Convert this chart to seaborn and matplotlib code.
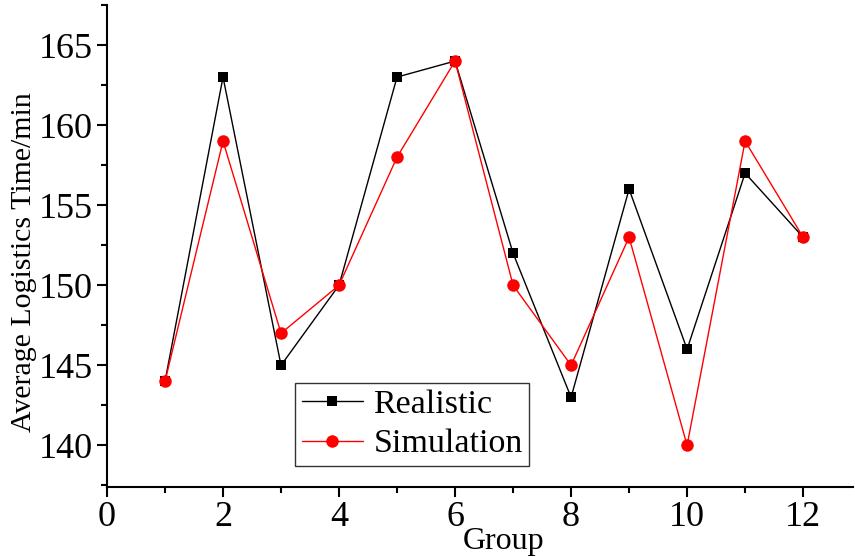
import matplotlib
matplotlib.use("Agg")
import matplotlib.pyplot as plt
import seaborn as sns
import pandas as pd
from matplotlib.ticker import MultipleLocator

groups = [1, 2, 3, 4, 5, 6, 7, 8, 9, 10, 11, 12]
realistic = [144, 163, 145, 150, 163, 164, 152, 143, 156, 146, 157, 153]
simulation = [144, 159, 147, 150, 158, 164, 150, 145, 153, 140, 159, 153]

sns.set_style("ticks")
plt.rcParams['font.family'] = ['Liberation Serif', 'DejaVu Serif']
plt.rcParams['text.color'] = 'black'
plt.rcParams['axes.labelcolor'] = 'black'

fig = plt.figure(figsize=(8.55, 5.57), dpi=100)
ax = fig.add_axes([107 / 855, 1 - 487 / 557, 746 / 855, 482 / 557])

df = pd.DataFrame({"Group": groups, "Realistic": realistic, "Simulation": simulation})

sns.lineplot(data=df, x="Group", y="Realistic", ax=ax, color="black", marker="s",
             markersize=7.5, linewidth=1, markeredgewidth=0, label="Realistic")
sns.lineplot(data=df, x="Group", y="Simulation", ax=ax, color="red", marker="o",
             markersize=9, linewidth=1, markeredgewidth=0, label="Simulation")

ax.set_xlim(0, 12.86)
ax.set_ylim(137.4, 167.5)
ax.xaxis.set_major_locator(MultipleLocator(2))
ax.xaxis.set_minor_locator(MultipleLocator(1))
ax.yaxis.set_major_locator(MultipleLocator(5))
ax.yaxis.set_minor_locator(MultipleLocator(2.5))
ax.tick_params(which="major", direction="out", length=7, width=1.5, labelsize=26,
               colors="black", labelcolor="black", pad=3)
ax.tick_params(which="minor", direction="out", length=4, width=1.5, colors="black")

sns.despine(ax=ax)
for s in ["left", "bottom"]:
    ax.spines[s].set_linewidth(1.5)
    ax.spines[s].set_color("black")

ax.set_xlabel("Group", fontsize=23)
ax.xaxis.set_label_coords(0.532, -0.082)
ax.set_ylabel("Average Logistics Time/min", fontsize=21.5)
ax.yaxis.set_label_coords(-0.094, 0.467)

leg = ax.legend(loc="lower left", bbox_to_anchor=(0.252, 0.043), fontsize=24.5,
                frameon=True, fancybox=False, edgecolor="black",
                handlelength=1.8, handletextpad=0.3, borderpad=0.2, labelspacing=0.25,
                borderaxespad=0)
leg.get_frame().set_linewidth(1)

fig.savefig("out.png", dpi=100)
